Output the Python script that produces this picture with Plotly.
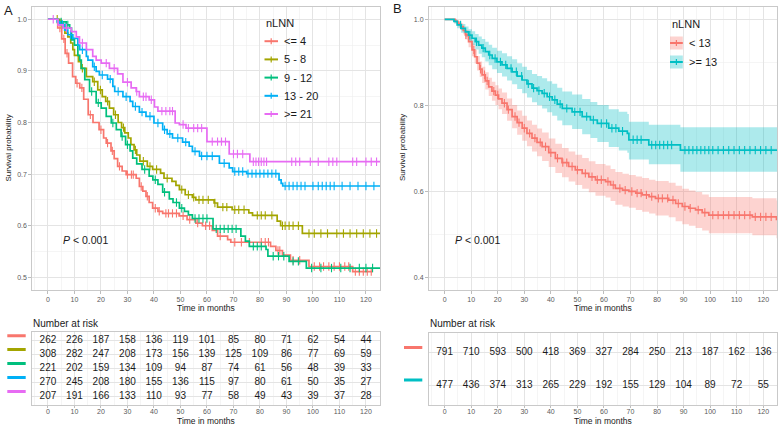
import bisect
import plotly.graph_objects as go

W, H = 778, 426
FONT = "Liberation Sans, Arial, sans-serif"

# ---------------- DATA ----------------
risk_times = [0, 10, 20, 30, 40, 50, 60, 70, 80, 90, 100, 110, 120]

groups_a = ["<= 4", "5 - 8", "9 - 12", "13 - 20", ">= 21"]
colors_a = ["#F8766D", "#A3A500", "#00BF7D", "#00B0F6", "#E76BF3"]

red_a_t = [0, 3.7, 5.2, 6.5, 7.8, 9.3, 10.5, 12.0, 13.5, 15.2, 17.0, 19.3, 21.0, 22.0, 23.8, 25.0, 26.3, 28.0,
           29.5, 33.3, 34.5, 35.8, 37.0, 38.2, 39.5, 41.5, 43.3, 49.5, 52.5, 55.8, 58.3, 62.0, 64.0, 67.8, 69.0,
           84.0, 86.0, 88.5, 91.5, 98.5, 115.0]
red_a_s = [1.0, 0.983, 0.962, 0.934, 0.915, 0.889, 0.876, 0.867, 0.845, 0.815, 0.800, 0.786, 0.770, 0.760, 0.745,
           0.730, 0.715, 0.706, 0.699, 0.692, 0.676, 0.667, 0.657, 0.645, 0.634, 0.628, 0.624, 0.619, 0.612, 0.605,
           0.600, 0.591, 0.580, 0.573, 0.568, 0.560, 0.552, 0.543, 0.533, 0.521, 0.511]
red_a_end = 122.5
red_a_cens = [4.5, 6.0, 7.2, 11.0, 12.8, 16.0, 20.0, 22.5, 24.3, 27.0, 30.0, 31.5, 32.2, 35.2, 37.5, 40.5, 42.0,
              44.5, 45.5, 47.0, 48.5, 51.0, 53.5, 56.5, 59.5, 61.0, 65.0, 70.5, 73.0, 76.0, 80.5, 82.0, 83.2, 86.8,
              87.5, 92.5, 95.0, 100.5, 102.5, 104.0, 106.0, 108.0, 110.0, 112.0, 113.5, 116.0, 117.5, 119.0, 120.5,
              122.0]

olive_a_t = [0, 4.5, 5.7, 6.4, 7.5, 8.6, 9.4, 10.0, 11.5, 12.5, 14.5, 16.9, 18.8, 20.5, 21.8, 23.2, 24.8, 26.5,
             27.8, 29.0, 30.3, 31.3, 32.5, 33.5, 34.7, 37.5, 39.5, 42.5, 43.8, 46.8, 48.3, 49.6, 51.8, 54.5, 55.8,
             62.7, 64.0, 69.5, 75.8, 77.2, 86.5, 87.8, 96.0]
olive_a_s = [1.0, 0.992, 0.986, 0.973, 0.966, 0.954, 0.941, 0.930, 0.918, 0.905, 0.889, 0.879, 0.863, 0.850, 0.841,
             0.828, 0.815, 0.800, 0.790, 0.780, 0.770, 0.757, 0.747, 0.737, 0.725, 0.715, 0.709, 0.702, 0.692,
             0.686, 0.678, 0.670, 0.660, 0.655, 0.650, 0.644, 0.636, 0.631, 0.625, 0.620, 0.609, 0.600, 0.585]
olive_a_end = 125.3
olive_a_cens = [3.5, 5.0, 13.0, 17.5, 19.8, 22.5, 25.5, 28.5, 33.0, 36.0, 38.5, 41.0, 45.0, 50.5, 53.0, 55.0, 57.0,
                58.5, 60.5, 63.0, 66.0, 67.5, 70.5, 72.0, 74.0, 79.0, 80.5, 82.0, 84.5, 88.5, 89.5, 91.0, 92.5,
                94.5, 98.5, 100.5, 103.0, 105.5, 109.0, 111.5, 114.0, 116.5, 119.0, 121.5, 124.0]

green_a_t = [0, 4.0, 6.9, 8.2, 8.9, 10.0, 11.3, 12.0, 12.6, 13.9, 15.7, 18.2, 20.1, 22.0, 23.9, 25.8, 27.6, 29.3,
             31.0, 32.0, 33.5, 35.5, 38.2, 39.6, 41.5, 43.3, 45.8, 47.2, 49.6, 51.5, 53.0, 54.5, 62.3, 72.8, 74.5,
             76.0, 82.3, 83.0, 91.0, 97.5]
green_a_s = [1.0, 0.995, 0.989, 0.983, 0.960, 0.950, 0.930, 0.921, 0.905, 0.883, 0.860, 0.838, 0.828, 0.812, 0.799,
             0.786, 0.773, 0.757, 0.745, 0.731, 0.720, 0.709, 0.696, 0.689, 0.680, 0.665, 0.652, 0.645, 0.634,
             0.628, 0.621, 0.614, 0.594, 0.580, 0.570, 0.560, 0.554, 0.541, 0.531, 0.518]
green_a_end = 125.3
green_a_cens = [5.0, 7.5, 16.5, 19.0, 24.5, 28.0, 30.0, 36.5, 40.5, 44.0, 48.5, 50.5, 55.5, 57.0, 58.5, 60.0, 63.5,
                65.0, 66.5, 68.0, 69.5, 71.0, 77.5, 79.0, 80.5, 85.0, 87.0, 89.0, 92.5, 94.5, 99.5, 103.0, 107.0,
                110.5, 114.0, 117.5, 120.0, 122.5]

blue_a_t = [0, 3.5, 4.5, 6.3, 7.5, 9.4, 11.3, 12.0, 14.5, 15.1, 16.9, 18.2, 19.4, 22.5, 24.5, 25.2, 28.3, 31.0,
            32.0, 34.5, 37.0, 40.0, 43.3, 45.0, 47.0, 50.8, 53.3, 54.5, 57.2, 64.7, 68.4, 69.7, 75.0, 87.2, 88.0,
            88.6]
blue_a_s = [1.0, 0.995, 0.990, 0.979, 0.970, 0.963, 0.950, 0.941, 0.928, 0.921, 0.908, 0.899, 0.892, 0.884, 0.870,
            0.860, 0.850, 0.841, 0.831, 0.820, 0.812, 0.799, 0.786, 0.778, 0.770, 0.762, 0.754, 0.744, 0.735, 0.721,
            0.712, 0.705, 0.701, 0.689, 0.682, 0.677]
blue_a_end = 125.3
blue_a_cens = [5.5, 8.5, 13.0, 17.5, 20.5, 23.5, 26.5, 29.5, 33.0, 35.5, 38.5, 41.5, 44.0, 46.0, 49.0, 52.0, 55.5,
               58.0, 60.0, 62.0, 66.5, 70.5, 72.0, 73.5, 75.5, 77.0, 78.5, 80.0, 81.5, 83.0, 84.5, 86.0, 89.5, 91.0,
               92.5, 94.0, 95.5, 97.0, 100.0, 102.0, 103.5, 105.0, 106.5, 108.0, 111.0, 114.0, 117.0, 120.0, 123.0]

mag_a_t = [0, 3.8, 5.7, 8.8, 10.7, 11.9, 14.5, 16.9, 18.2, 20.1, 23.2, 26.3, 28.3, 31.4, 33.3, 34.5, 38.2, 40.2,
           41.5, 48.0, 49.6, 52.1, 60.0, 68.4, 76.2]
mag_a_s = [1.0, 0.989, 0.983, 0.976, 0.966, 0.954, 0.941, 0.928, 0.921, 0.915, 0.905, 0.894, 0.878, 0.867, 0.860,
           0.850, 0.844, 0.830, 0.822, 0.799, 0.796, 0.789, 0.763, 0.739, 0.724]
mag_a_end = 125.3
mag_a_cens = [2.0, 7.0, 13.0, 22.0, 25.0, 30.0, 33.5, 36.0, 37.0, 39.0, 43.0, 44.5, 46.0, 47.0, 51.0, 53.0, 55.0,
              56.5, 58.0, 62.0, 64.0, 65.5, 67.0, 70.0, 71.5, 73.5, 77.5, 78.5, 79.5, 80.5, 81.5, 82.5, 92.0, 93.5,
              95.0, 99.0, 102.0, 106.0, 107.5, 109.0, 115.0, 116.5, 120.0, 122.0, 124.0]

risk_a = [
    [262, 226, 187, 158, 136, 119, 101, 85, 80, 71, 62, 54, 44],
    [308, 282, 247, 208, 173, 156, 139, 125, 109, 86, 77, 69, 59],
    [221, 202, 159, 134, 109, 94, 87, 74, 61, 56, 48, 39, 33],
    [270, 245, 208, 180, 155, 136, 115, 97, 80, 61, 50, 35, 27],
    [207, 191, 166, 133, 110, 93, 77, 58, 49, 43, 39, 37, 28],
]

groups_b = ["< 13", ">= 13"]
colors_b = ["#F8766D", "#00BFC4"]
bands_b = ["rgba(248,118,109,0.32)", "rgba(0,191,196,0.32)"]

red_b_t = [0, 4.0, 5.0, 6.0, 7.0, 7.8, 9.0, 10.3, 11.3, 12.2, 13.2, 14.1, 15.3, 16.6, 17.8, 19.1, 20.3, 21.6, 23.5,
           25.4, 27.3, 29.2, 31.0, 32.9, 34.8, 36.7, 39.2, 41.7, 44.2, 46.7, 49.2, 51.8, 54.3, 56.8, 60.6, 62.5,
           64.3, 67.0, 69.4, 72.0, 74.4, 77.0, 79.4, 84.4, 87.0, 89.5, 92.0, 94.5, 97.0, 99.5, 115.9, 125.0]
red_b_s = [1.0, 0.995, 0.990, 0.983, 0.974, 0.964, 0.948, 0.929, 0.913, 0.898, 0.884, 0.871, 0.857, 0.843, 0.833,
           0.824, 0.815, 0.805, 0.790, 0.774, 0.760, 0.747, 0.735, 0.724, 0.714, 0.704, 0.690, 0.677, 0.667, 0.658,
           0.650, 0.642, 0.634, 0.627, 0.623, 0.615, 0.607, 0.603, 0.600, 0.596, 0.592, 0.588, 0.584, 0.580, 0.572,
           0.565, 0.561, 0.557, 0.551, 0.545, 0.541, 0.535]
red_b_lo = [1.0, 0.991, 0.984, 0.975, 0.965, 0.953, 0.935, 0.914, 0.897, 0.881, 0.866, 0.852, 0.837, 0.822, 0.811,
            0.801, 0.791, 0.780, 0.764, 0.747, 0.732, 0.718, 0.705, 0.693, 0.682, 0.671, 0.657, 0.643, 0.633, 0.623,
            0.615, 0.606, 0.598, 0.590, 0.586, 0.578, 0.569, 0.565, 0.562, 0.557, 0.553, 0.549, 0.544, 0.540, 0.531,
            0.524, 0.520, 0.515, 0.509, 0.503, 0.498, 0.491]
red_b_hi = [1.0, 0.999, 0.996, 0.991, 0.983, 0.975, 0.961, 0.944, 0.929, 0.915, 0.902, 0.890, 0.877, 0.864, 0.855,
            0.847, 0.839, 0.830, 0.816, 0.801, 0.788, 0.776, 0.765, 0.755, 0.746, 0.737, 0.723, 0.711, 0.701, 0.693,
            0.685, 0.678, 0.670, 0.664, 0.660, 0.652, 0.645, 0.641, 0.638, 0.635, 0.631, 0.627, 0.624, 0.620, 0.613,
            0.606, 0.602, 0.599, 0.593, 0.587, 0.584, 0.579]
red_b_end = 125.5
red_b_cens = [8.0, 11.0, 13.5, 15.0, 16.0, 18.5, 20.0, 22.5, 24.0, 26.5, 28.0, 30.0, 32.0, 34.0, 36.0, 38.0, 40.0,
              42.5, 44.5, 46.0, 48.0, 50.0, 53.0, 55.5, 57.5, 59.0, 61.5, 63.5, 66.0, 68.0, 70.5, 72.5, 74.0, 76.0,
              78.0, 80.5, 82.0, 84.0, 86.0, 88.0, 90.5, 92.5, 95.5, 98.0, 101.0, 103.0, 105.0, 107.0, 109.0, 111.0,
              113.0, 115.0, 117.0, 119.0, 121.0, 123.0]

cyan_b_t = [0, 3.5, 4.7, 6.2, 7.8, 9.0, 10.3, 11.5, 12.8, 14.0, 15.3, 16.6, 17.9, 19.7, 21.6, 23.5, 25.4, 27.3, 29.2,
            31.0, 32.9, 34.8, 36.7, 38.6, 40.5, 42.4, 44.3, 48.0, 51.8, 54.9, 57.5, 61.8, 65.6, 68.8, 69.4, 76.9,
            88.8]
cyan_b_s = [1.0, 0.995, 0.987, 0.979, 0.971, 0.963, 0.956, 0.948, 0.940, 0.933, 0.925, 0.917, 0.909, 0.901, 0.894,
            0.886, 0.878, 0.868, 0.859, 0.850, 0.840, 0.834, 0.828, 0.820, 0.813, 0.803, 0.793, 0.785, 0.774, 0.766,
            0.758, 0.747, 0.740, 0.735, 0.720, 0.708, 0.696]
cyan_b_lo = [1.0, 0.990, 0.979, 0.969, 0.959, 0.949, 0.940, 0.930, 0.920, 0.912, 0.902, 0.893, 0.884, 0.875, 0.867,
             0.858, 0.849, 0.838, 0.828, 0.818, 0.807, 0.800, 0.793, 0.784, 0.776, 0.765, 0.754, 0.745, 0.733,
             0.724, 0.715, 0.703, 0.695, 0.690, 0.674, 0.663, 0.646]
cyan_b_hi = [1.0, 1.0, 0.995, 0.989, 0.983, 0.977, 0.972, 0.966, 0.960, 0.954, 0.948, 0.941, 0.934, 0.927, 0.921,
             0.914, 0.907, 0.898, 0.890, 0.882, 0.873, 0.868, 0.863, 0.856, 0.850, 0.841, 0.832, 0.825, 0.815,
             0.808, 0.801, 0.791, 0.785, 0.780, 0.762, 0.755, 0.749]
cyan_b_end = 125.5
cyan_b_cens = [6.0, 9.5, 12.0, 14.5, 17.0, 19.0, 21.0, 23.0, 25.0, 27.0, 29.0, 31.5, 33.5, 35.5, 37.5, 39.5, 41.5,
               43.5, 46.0, 49.0, 51.0, 53.5, 56.0, 59.0, 61.0, 63.0, 64.5, 67.0, 71.0, 72.5, 74.0, 78.0, 79.5, 81.0,
               82.5, 84.0, 85.5, 90.5, 92.0, 93.5, 95.0, 96.5, 98.0, 99.5, 101.0, 103.0, 105.0, 107.0, 109.0, 111.0,
               113.0, 115.0, 117.0, 119.0, 121.0, 123.0]

risk_b = [
    [791, 710, 593, 500, 418, 369, 327, 284, 250, 213, 187, 162, 136],
    [477, 436, 374, 313, 265, 229, 192, 155, 129, 104, 89, 72, 55],
]

# ---------------- HELPERS ----------------
def px(x):
    return x / W


def py(y):
    return 1 - y / H


def surv_at(times, surv, t):
    i = bisect.bisect_right(times, t) - 1
    return surv[max(i, 0)]


GRID = "#E4E4E4"
MINOR = "#EFEFEF"
BORDER = "#C9C9C9"
TICKC = "#5A5A5A"

XR = [-5.9, 125.3]


def xaxis(dom, anchor, table=False):
    d = dict(domain=[px(dom[0]), px(dom[1])], anchor=anchor, range=XR, tick0=0, dtick=10,
             ticks="outside", ticklen=3, tickcolor="#BDBDBD", tickwidth=1,
             tickfont=dict(size=7, color=TICKC, family=FONT),
             showgrid=True, gridcolor=GRID, gridwidth=1,
             minor=dict(dtick=5, tick0=0, showgrid=True, gridcolor=MINOR, gridwidth=0.6, ticks=""),
             showline=True, linecolor=BORDER, linewidth=1, mirror=True, zeroline=False, fixedrange=True)
    if table:
        d.update(ticklen=2, ticklabelstandoff=-2)
    return d


fig = go.Figure()

# ---------------- PANEL A ----------------
curves_a = [
    (red_a_t, red_a_s, red_a_end, red_a_cens),
    (olive_a_t, olive_a_s, olive_a_end, olive_a_cens),
    (green_a_t, green_a_s, green_a_end, green_a_cens),
    (blue_a_t, blue_a_s, blue_a_end, blue_a_cens),
    (mag_a_t, mag_a_s, mag_a_end, mag_a_cens),
]
for (t, s, end, cens), col, name in zip(curves_a, colors_a, groups_a):
    fig.add_trace(go.Scatter(x=t + [end], y=s + [s[-1]], mode="lines", line=dict(color=col, width=1.7, shape="hv"),
                             name=name, xaxis="x", yaxis="y", hoverinfo="skip"))
    fig.add_trace(go.Scatter(x=cens, y=[surv_at(t, s, c) for c in cens], mode="markers",
                             marker=dict(symbol="line-ns", size=6, line=dict(color=col, width=1.1)),
                             xaxis="x", yaxis="y", hoverinfo="skip"))

for i, (row, col) in enumerate(zip(risk_a, colors_a)):
    fig.add_trace(go.Scatter(x=risk_times, y=[i + 1] * len(row), mode="text", text=[str(v) for v in row],
                             textfont=dict(size=10, color="#1A1A1A", family=FONT), xaxis="x2", yaxis="y2",
                             hoverinfo="skip", cliponaxis=False))

# ---------------- PANEL B ----------------
curves_b = [
    (red_b_t, red_b_s, red_b_lo, red_b_hi, red_b_end, red_b_cens),
    (cyan_b_t, cyan_b_s, cyan_b_lo, cyan_b_hi, cyan_b_end, cyan_b_cens),
]
for (t, s, lo, hi, end, cens), band in zip(curves_b, bands_b):
    fig.add_trace(go.Scatter(x=t + [end], y=lo + [lo[-1]], mode="lines", line=dict(width=0, shape="hv"),
                             xaxis="x3", yaxis="y3", hoverinfo="skip"))
    fig.add_trace(go.Scatter(x=t + [end], y=hi + [hi[-1]], mode="lines", line=dict(width=0, shape="hv"),
                             fill="tonexty", fillcolor=band, xaxis="x3", yaxis="y3", hoverinfo="skip"))
for (t, s, lo, hi, end, cens), col, name in zip(curves_b, colors_b, groups_b):
    fig.add_trace(go.Scatter(x=t + [end], y=s + [s[-1]], mode="lines", line=dict(color=col, width=1.7, shape="hv"),
                             name=name, xaxis="x3", yaxis="y3", hoverinfo="skip"))
    fig.add_trace(go.Scatter(x=cens, y=[surv_at(t, s, c) for c in cens], mode="markers",
                             marker=dict(symbol="line-ns", size=6, line=dict(color=col, width=1.1)),
                             xaxis="x3", yaxis="y3", hoverinfo="skip"))

for i, row in enumerate(risk_b):
    fig.add_trace(go.Scatter(x=risk_times, y=[i + 1] * len(row), mode="text", text=[str(v) for v in row],
                             textfont=dict(size=10, color="#1A1A1A", family=FONT), xaxis="x4", yaxis="y4",
                             hoverinfo="skip", cliponaxis=False))

# ---------------- AXES ----------------
A_X = (32.3, 380.0)
B_X = (429.0, 777.3)

ya = dict(domain=[py(290), py(6.6)], anchor="x", range=[0.4755, 1.0245], tick0=0, dtick=0.1, tickformat=".1f",
          ticks="outside", ticklen=3, tickcolor="#BDBDBD", tickfont=dict(size=7, color=TICKC, family=FONT),
          showgrid=True, gridcolor=GRID, minor=dict(dtick=0.05, tick0=0, showgrid=True, gridcolor=MINOR,
                                                     gridwidth=0.6, ticks=""),
          showline=True, linecolor=BORDER, linewidth=1, mirror=True, zeroline=False, fixedrange=True)
yb = dict(ya)
yb.update(anchor="x3", range=[0.371, 1.0295], dtick=0.2,
          minor=dict(dtick=0.1, tick0=0, showgrid=True, gridcolor=MINOR, gridwidth=0.6, ticks=""))

ya_t = dict(domain=[py(404.5), py(332)], anchor="x2", range=[5.6, 0.4], tickvals=[1, 2, 3, 4, 5],
            showticklabels=False, ticks="", showgrid=True, gridcolor=GRID, showline=True, linecolor=BORDER,
            mirror=True, zeroline=False, fixedrange=True)
yb_t = dict(domain=[py(404.5), py(333)], anchor="x4", range=[2.6, 0.4], tickvals=[1, 2],
            showticklabels=False, ticks="", showgrid=True, gridcolor=GRID, showline=True, linecolor=BORDER,
            mirror=True, zeroline=False, fixedrange=True)

fig.update_layout(
    width=W, height=H, margin=dict(l=0, r=0, t=0, b=0), paper_bgcolor="white", plot_bgcolor="white",
    showlegend=False, font=dict(family=FONT),
    xaxis=xaxis(A_X, "y"), yaxis=ya,
    xaxis2=xaxis(A_X, "y2", True), yaxis2=ya_t,
    xaxis3=xaxis(B_X, "y3"), yaxis3=yb,
    xaxis4=xaxis(B_X, "y4", True), yaxis4=yb_t,
)

# ---------------- ANNOTATIONS / SHAPES ----------------
ann = []
shapes = []


def text(x, y, s, size, xanchor="left", color="#1A1A1A", angle=0):
    ann.append(dict(x=px(x), y=py(y), xref="paper", yref="paper", text=s, showarrow=False, xanchor=xanchor,
                    yanchor="middle", textangle=angle, font=dict(size=size, color=color, family=FONT)))


text(2, 10, "A", 13)
text(391, 9, "B", 13)
text(7.5, 148, "Survival probability", 8, xanchor="center", angle=-90)
text(402, 148, "Survival probability", 8, xanchor="center", angle=-90)
text(206, 307.5, "Time in months", 8.5, xanchor="center")
text(603, 307.5, "Time in months", 8.5, xanchor="center")
text(206, 421, "Time in months", 8.5, xanchor="center")
text(603, 421, "Time in months", 8.5, xanchor="center")
text(31, 323, "Number at risk", 10)
text(428, 323, "Number at risk", 10)
text(61, 240, "<i>P</i> &lt; 0.001", 10.5)
text(453, 240, "<i>P</i> &lt; 0.001", 10.5)

# legend A
text(263.5, 22.7, "nLNN", 11)
leg_a_y = [41.2, 59.4, 77.6, 95.8, 114.0]
for name, col, y in zip(groups_a, colors_a, leg_a_y):
    shapes.append(dict(type="line", xref="paper", yref="paper", x0=px(264.5), x1=px(278), y0=py(y), y1=py(y),
                       line=dict(color=col, width=2)))
    shapes.append(dict(type="line", xref="paper", yref="paper", x0=px(271.2), x1=px(271.2), y0=py(y - 3),
                       y1=py(y + 3), line=dict(color=col, width=1.2)))
    text(281.5, y, name.replace("<", "&lt;").replace(">", "&gt;"), 11)

# legend B
text(669.5, 24, "nLNN", 11)
leg_b_y = [43.0, 62.0]
for name, col, band, y in zip(groups_b, colors_b, bands_b, leg_b_y):
    shapes.append(dict(type="rect", xref="paper", yref="paper", x0=px(670), x1=px(682.8), y0=py(y - 6.5),
                       y1=py(y + 6.5), fillcolor=band, line=dict(width=0)))
    shapes.append(dict(type="line", xref="paper", yref="paper", x0=px(670), x1=px(682.8), y0=py(y), y1=py(y),
                       line=dict(color=col, width=2)))
    shapes.append(dict(type="line", xref="paper", yref="paper", x0=px(676.4), x1=px(676.4), y0=py(y - 3),
                       y1=py(y + 3), line=dict(color=col, width=1.2)))
    text(687, y, name.replace("<", "&lt;").replace(">", "&gt;"), 11)

# risk table colour keys
for i, col in enumerate(colors_a):
    shapes.append(dict(type="line", xref="paper", yref="y2", ysizemode="pixel", yanchor=i + 1, y0=4.7, y1=4.7,
                       x0=px(7.3), x1=px(25.7), line=dict(color=col, width=3)))
for i, col in enumerate(colors_b):
    shapes.append(dict(type="line", xref="paper", yref="y4", ysizemode="pixel", yanchor=i + 1, y0=5, y1=5,
                       x0=px(404), x1=px(422.3), line=dict(color=col, width=3)))

fig.update_layout(annotations=ann, shapes=shapes)
fig.write_html("out.html", config={"displayModeBar": False, "staticPlot": True},
               post_script="document.body.style.margin='0';document.body.style.padding='0';"
                           "document.body.style.overflow='hidden';")
